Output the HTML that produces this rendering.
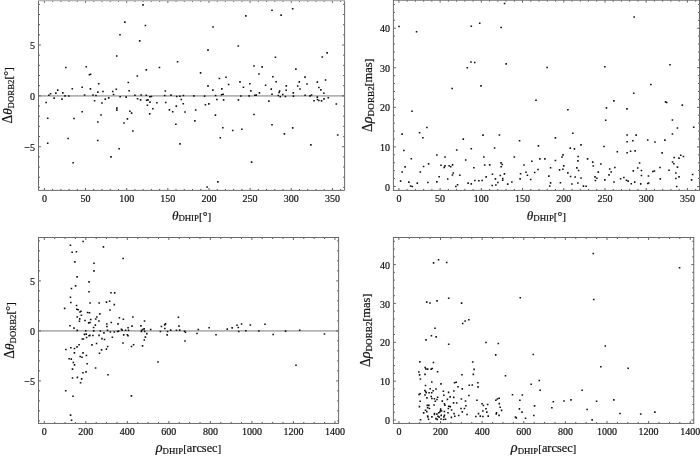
<!DOCTYPE html>
<html><head><meta charset="utf-8"><title>plot</title>
<style>
html,body{margin:0;padding:0;background:#fff;overflow:hidden;}
svg{display:block;}
text{font-family:"Liberation Serif","DejaVu Serif",serif;fill:#111;stroke:#111;stroke-width:0.2px;}
.tk{font-size:10px;}
.lb{font-size:12.2px;}
.sub{font-size:8.8px;}
.it{font-style:italic;font-size:13.3px;}
</style></head><body>
<svg width="700" height="456" viewBox="0 0 700 456">
<rect x="0" y="0" width="700" height="456" fill="#fff"/>

<g id="p1">
<line x1="38.5" y1="95.86" x2="344.6" y2="95.86" stroke="#b2b2b2" stroke-width="1.6"/>
<path d="M44.40 190.4v-2.4M44.40 0.5v2.4M52.63 190.4v-1.5M52.63 0.5v1.5M60.86 190.4v-1.5M60.86 0.5v1.5M69.09 190.4v-1.5M69.09 0.5v1.5M77.32 190.4v-1.5M77.32 0.5v1.5M85.54 190.4v-2.4M85.54 0.5v2.4M93.77 190.4v-1.5M93.77 0.5v1.5M102.00 190.4v-1.5M102.00 0.5v1.5M110.23 190.4v-1.5M110.23 0.5v1.5M118.46 190.4v-1.5M118.46 0.5v1.5M126.69 190.4v-2.4M126.69 0.5v2.4M134.92 190.4v-1.5M134.92 0.5v1.5M143.15 190.4v-1.5M143.15 0.5v1.5M151.38 190.4v-1.5M151.38 0.5v1.5M159.61 190.4v-1.5M159.61 0.5v1.5M167.83 190.4v-2.4M167.83 0.5v2.4M176.06 190.4v-1.5M176.06 0.5v1.5M184.29 190.4v-1.5M184.29 0.5v1.5M192.52 190.4v-1.5M192.52 0.5v1.5M200.75 190.4v-1.5M200.75 0.5v1.5M208.98 190.4v-2.4M208.98 0.5v2.4M217.21 190.4v-1.5M217.21 0.5v1.5M225.44 190.4v-1.5M225.44 0.5v1.5M233.67 190.4v-1.5M233.67 0.5v1.5M241.90 190.4v-1.5M241.90 0.5v1.5M250.12 190.4v-2.4M250.12 0.5v2.4M258.35 190.4v-1.5M258.35 0.5v1.5M266.58 190.4v-1.5M266.58 0.5v1.5M274.81 190.4v-1.5M274.81 0.5v1.5M283.04 190.4v-1.5M283.04 0.5v1.5M291.27 190.4v-2.4M291.27 0.5v2.4M299.50 190.4v-1.5M299.50 0.5v1.5M307.73 190.4v-1.5M307.73 0.5v1.5M315.96 190.4v-1.5M315.96 0.5v1.5M324.19 190.4v-1.5M324.19 0.5v1.5M332.41 190.4v-2.4M332.41 0.5v2.4M340.64 190.4v-1.5M340.64 0.5v1.5M38.5 187.39h1.5M344.6 187.39h-1.5M38.5 177.22h1.5M344.6 177.22h-1.5M38.5 167.05h1.5M344.6 167.05h-1.5M38.5 156.88h1.5M344.6 156.88h-1.5M38.5 146.71h2.4M344.6 146.71h-2.4M38.5 136.54h1.5M344.6 136.54h-1.5M38.5 126.37h1.5M344.6 126.37h-1.5M38.5 116.20h1.5M344.6 116.20h-1.5M38.5 106.03h1.5M344.6 106.03h-1.5M38.5 95.86h2.4M344.6 95.86h-2.4M38.5 85.69h1.5M344.6 85.69h-1.5M38.5 75.52h1.5M344.6 75.52h-1.5M38.5 65.35h1.5M344.6 65.35h-1.5M38.5 55.18h1.5M344.6 55.18h-1.5M38.5 45.01h2.4M344.6 45.01h-2.4M38.5 34.84h1.5M344.6 34.84h-1.5M38.5 24.67h1.5M344.6 24.67h-1.5M38.5 14.50h1.5M344.6 14.50h-1.5M38.5 4.33h1.5M344.6 4.33h-1.5" stroke="#4a4a4a" stroke-width="0.9" fill="none"/>
<path d="M38.5 0.5V190.4H344.6V0.5" fill="none" stroke="#6a6a6a" stroke-width="1"/>
<rect x="38.0" y="0" width="307.10" height="1.3" fill="#b4b4b4"/>
<text class="tk" x="44.40" y="201.90" text-anchor="middle">0</text>
<text class="tk" x="85.54" y="201.90" text-anchor="middle">50</text>
<text class="tk" x="126.69" y="201.90" text-anchor="middle">100</text>
<text class="tk" x="167.83" y="201.90" text-anchor="middle">150</text>
<text class="tk" x="208.98" y="201.90" text-anchor="middle">200</text>
<text class="tk" x="250.12" y="201.90" text-anchor="middle">250</text>
<text class="tk" x="291.27" y="201.90" text-anchor="middle">300</text>
<text class="tk" x="332.41" y="201.90" text-anchor="middle">350</text>
<text class="tk" x="35.00" y="150.81" text-anchor="end">−5</text>
<text class="tk" x="35.00" y="99.96" text-anchor="end">0</text>
<text class="tk" x="35.00" y="49.11" text-anchor="end">5</text>
<text class="lb" x="191.55" y="219.50" text-anchor="middle"><tspan class="it" style="font-size:13.2px">θ</tspan><tspan class="sub" dy="1.8" style="font-size:8.8px">DHIP</tspan><tspan dy="-1.8" style="font-size:11.2px">[</tspan><tspan style="font-size:12.0px">°</tspan><tspan style="font-size:11.2px">]</tspan></text>
<text class="lb" transform="translate(12.00 95.45) rotate(-90)" text-anchor="middle"><tspan style="font-size:13.6px">Δ</tspan><tspan class="it" style="font-size:13.2px">θ</tspan><tspan class="sub" dy="1.8" style="font-size:8.8px">DORB2</tspan><tspan dy="-1.8" style="font-size:11.2px">[</tspan><tspan style="font-size:12.0px">°</tspan><tspan style="font-size:11.2px">]</tspan></text>
<path d="M124.06 21.34h1.6v1.6h-1.6zM119.20 33.91h1.6v1.6h-1.6zM115.91 55.20h1.6v1.6h-1.6zM65.06 66.77h1.6v1.6h-1.6zM85.49 65.91h1.6v1.6h-1.6zM88.63 73.91h1.6v1.6h-1.6zM89.77 73.49h1.6v1.6h-1.6zM136.49 75.20h1.6v1.6h-1.6zM97.91 82.91h1.6v1.6h-1.6zM127.49 81.77h1.6v1.6h-1.6zM56.91 89.34h1.6v1.6h-1.6zM71.49 87.91h1.6v1.6h-1.6zM81.34 86.49h1.6v1.6h-1.6zM89.63 88.06h1.6v1.6h-1.6zM115.49 88.49h1.6v1.6h-1.6zM49.77 92.91h1.6v1.6h-1.6zM55.06 92.34h1.6v1.6h-1.6zM62.06 92.06h1.6v1.6h-1.6zM97.06 91.34h1.6v1.6h-1.6zM102.20 90.63h1.6v1.6h-1.6zM111.91 90.63h1.6v1.6h-1.6zM128.34 89.91h1.6v1.6h-1.6zM48.06 94.49h1.6v1.6h-1.6zM64.20 95.06h1.6v1.6h-1.6zM68.06 95.20h1.6v1.6h-1.6zM83.77 94.20h1.6v1.6h-1.6zM92.20 94.20h1.6v1.6h-1.6zM95.20 94.63h1.6v1.6h-1.6zM112.77 93.63h1.6v1.6h-1.6zM134.20 94.49h1.6v1.6h-1.6zM53.34 97.34h1.6v1.6h-1.6zM61.20 98.34h1.6v1.6h-1.6zM104.49 98.34h1.6v1.6h-1.6zM107.91 97.06h1.6v1.6h-1.6zM119.34 95.91h1.6v1.6h-1.6zM125.34 96.34h1.6v1.6h-1.6zM136.77 97.91h1.6v1.6h-1.6zM45.34 101.77h1.6v1.6h-1.6zM93.77 99.91h1.6v1.6h-1.6zM101.20 102.20h1.6v1.6h-1.6zM81.34 110.91h1.6v1.6h-1.6zM116.06 107.34h1.6v1.6h-1.6zM116.06 109.34h1.6v1.6h-1.6zM129.06 110.49h1.6v1.6h-1.6zM130.77 112.34h1.6v1.6h-1.6zM100.20 114.20h1.6v1.6h-1.6zM46.91 117.49h1.6v1.6h-1.6zM73.20 117.63h1.6v1.6h-1.6zM126.63 118.06h1.6v1.6h-1.6zM97.06 121.20h1.6v1.6h-1.6zM123.20 122.20h1.6v1.6h-1.6zM46.91 142.49h1.6v1.6h-1.6zM67.34 137.63h1.6v1.6h-1.6zM96.91 139.63h1.6v1.6h-1.6zM132.06 130.20h1.6v1.6h-1.6zM118.34 147.91h1.6v1.6h-1.6zM110.20 156.06h1.6v1.6h-1.6zM72.34 161.91h1.6v1.6h-1.6zM142.20 4.06h1.6v1.6h-1.6zM144.63 24.77h1.6v1.6h-1.6zM138.91 40.06h1.6v1.6h-1.6zM212.20 26.20h1.6v1.6h-1.6zM207.20 49.34h1.6v1.6h-1.6zM176.77 60.91h1.6v1.6h-1.6zM145.49 69.06h1.6v1.6h-1.6zM158.63 66.63h1.6v1.6h-1.6zM199.77 72.06h1.6v1.6h-1.6zM218.63 77.77h1.6v1.6h-1.6zM225.20 76.49h1.6v1.6h-1.6zM227.77 83.77h1.6v1.6h-1.6zM207.20 85.06h1.6v1.6h-1.6zM221.06 88.06h1.6v1.6h-1.6zM212.06 89.34h1.6v1.6h-1.6zM164.49 90.20h1.6v1.6h-1.6zM140.34 94.20h1.6v1.6h-1.6zM145.49 94.49h1.6v1.6h-1.6zM149.06 95.91h1.6v1.6h-1.6zM150.63 95.63h1.6v1.6h-1.6zM163.91 94.63h1.6v1.6h-1.6zM170.20 94.34h1.6v1.6h-1.6zM175.91 95.63h1.6v1.6h-1.6zM179.06 95.49h1.6v1.6h-1.6zM182.63 94.63h1.6v1.6h-1.6zM193.06 95.06h1.6v1.6h-1.6zM203.77 95.34h1.6v1.6h-1.6zM214.77 94.63h1.6v1.6h-1.6zM220.77 93.91h1.6v1.6h-1.6zM222.34 93.49h1.6v1.6h-1.6zM139.77 99.06h1.6v1.6h-1.6zM145.77 99.49h1.6v1.6h-1.6zM147.20 99.06h1.6v1.6h-1.6zM149.20 101.34h1.6v1.6h-1.6zM156.06 101.91h1.6v1.6h-1.6zM164.91 101.63h1.6v1.6h-1.6zM180.49 98.63h1.6v1.6h-1.6zM182.49 102.91h1.6v1.6h-1.6zM216.06 98.63h1.6v1.6h-1.6zM222.77 99.06h1.6v1.6h-1.6zM146.63 104.49h1.6v1.6h-1.6zM175.49 105.34h1.6v1.6h-1.6zM204.63 103.91h1.6v1.6h-1.6zM208.06 103.06h1.6v1.6h-1.6zM152.06 107.91h1.6v1.6h-1.6zM168.63 109.06h1.6v1.6h-1.6zM171.91 110.91h1.6v1.6h-1.6zM184.20 111.20h1.6v1.6h-1.6zM194.91 109.20h1.6v1.6h-1.6zM148.91 113.06h1.6v1.6h-1.6zM214.63 114.34h1.6v1.6h-1.6zM194.06 120.06h1.6v1.6h-1.6zM175.06 123.49h1.6v1.6h-1.6zM222.06 126.91h1.6v1.6h-1.6zM231.91 129.77h1.6v1.6h-1.6zM219.49 136.91h1.6v1.6h-1.6zM179.20 143.06h1.6v1.6h-1.6zM217.06 181.06h1.6v1.6h-1.6zM206.34 186.20h1.6v1.6h-1.6zM245.06 15.06h1.6v1.6h-1.6zM271.20 9.49h1.6v1.6h-1.6zM280.34 14.34h1.6v1.6h-1.6zM291.91 7.91h1.6v1.6h-1.6zM237.49 45.20h1.6v1.6h-1.6zM274.63 56.49h1.6v1.6h-1.6zM321.49 56.20h1.6v1.6h-1.6zM326.34 52.06h1.6v1.6h-1.6zM253.20 65.20h1.6v1.6h-1.6zM261.34 66.06h1.6v1.6h-1.6zM295.06 68.34h1.6v1.6h-1.6zM258.20 73.20h1.6v1.6h-1.6zM272.06 75.91h1.6v1.6h-1.6zM304.20 76.34h1.6v1.6h-1.6zM239.20 81.06h1.6v1.6h-1.6zM249.06 82.91h1.6v1.6h-1.6zM275.34 80.91h1.6v1.6h-1.6zM298.49 81.06h1.6v1.6h-1.6zM316.49 81.34h1.6v1.6h-1.6zM324.77 79.20h1.6v1.6h-1.6zM242.63 86.49h1.6v1.6h-1.6zM264.77 84.49h1.6v1.6h-1.6zM285.49 85.06h1.6v1.6h-1.6zM296.91 85.20h1.6v1.6h-1.6zM306.20 83.20h1.6v1.6h-1.6zM318.06 86.77h1.6v1.6h-1.6zM250.06 90.06h1.6v1.6h-1.6zM270.49 88.34h1.6v1.6h-1.6zM278.77 90.34h1.6v1.6h-1.6zM285.34 89.49h1.6v1.6h-1.6zM299.20 88.20h1.6v1.6h-1.6zM320.06 89.06h1.6v1.6h-1.6zM258.63 92.06h1.6v1.6h-1.6zM271.20 93.49h1.6v1.6h-1.6zM278.34 91.63h1.6v1.6h-1.6zM281.91 93.63h1.6v1.6h-1.6zM292.49 92.06h1.6v1.6h-1.6zM323.06 92.49h1.6v1.6h-1.6zM240.06 95.20h1.6v1.6h-1.6zM248.34 95.06h1.6v1.6h-1.6zM254.06 94.49h1.6v1.6h-1.6zM255.49 94.34h1.6v1.6h-1.6zM277.49 94.77h1.6v1.6h-1.6zM279.49 95.91h1.6v1.6h-1.6zM284.63 95.77h1.6v1.6h-1.6zM292.63 95.34h1.6v1.6h-1.6zM304.34 94.49h1.6v1.6h-1.6zM309.20 95.06h1.6v1.6h-1.6zM310.77 94.20h1.6v1.6h-1.6zM316.49 96.34h1.6v1.6h-1.6zM327.49 96.91h1.6v1.6h-1.6zM237.63 99.06h1.6v1.6h-1.6zM268.06 100.34h1.6v1.6h-1.6zM313.20 99.91h1.6v1.6h-1.6zM316.63 98.63h1.6v1.6h-1.6zM318.06 99.77h1.6v1.6h-1.6zM320.77 100.06h1.6v1.6h-1.6zM323.20 98.06h1.6v1.6h-1.6zM335.49 103.20h1.6v1.6h-1.6zM253.20 113.77h1.6v1.6h-1.6zM271.20 123.91h1.6v1.6h-1.6zM291.91 127.06h1.6v1.6h-1.6zM241.06 128.49h1.6v1.6h-1.6zM283.63 133.06h1.6v1.6h-1.6zM310.06 144.06h1.6v1.6h-1.6zM250.77 161.34h1.6v1.6h-1.6zM336.91 134.20h1.6v1.6h-1.6z" fill="#111"/>
</g>
<g id="p2">
<path d="M398.90 190.4v-2.4M398.90 0.2v2.4M407.14 190.4v-1.5M407.14 0.2v1.5M415.39 190.4v-1.5M415.39 0.2v1.5M423.63 190.4v-1.5M423.63 0.2v1.5M431.87 190.4v-1.5M431.87 0.2v1.5M440.12 190.4v-2.4M440.12 0.2v2.4M448.36 190.4v-1.5M448.36 0.2v1.5M456.60 190.4v-1.5M456.60 0.2v1.5M464.84 190.4v-1.5M464.84 0.2v1.5M473.09 190.4v-1.5M473.09 0.2v1.5M481.33 190.4v-2.4M481.33 0.2v2.4M489.57 190.4v-1.5M489.57 0.2v1.5M497.82 190.4v-1.5M497.82 0.2v1.5M506.06 190.4v-1.5M506.06 0.2v1.5M514.30 190.4v-1.5M514.30 0.2v1.5M522.54 190.4v-2.4M522.54 0.2v2.4M530.79 190.4v-1.5M530.79 0.2v1.5M539.03 190.4v-1.5M539.03 0.2v1.5M547.27 190.4v-1.5M547.27 0.2v1.5M555.52 190.4v-1.5M555.52 0.2v1.5M563.76 190.4v-2.4M563.76 0.2v2.4M572.00 190.4v-1.5M572.00 0.2v1.5M580.25 190.4v-1.5M580.25 0.2v1.5M588.49 190.4v-1.5M588.49 0.2v1.5M596.73 190.4v-1.5M596.73 0.2v1.5M604.98 190.4v-2.4M604.98 0.2v2.4M613.22 190.4v-1.5M613.22 0.2v1.5M621.46 190.4v-1.5M621.46 0.2v1.5M629.70 190.4v-1.5M629.70 0.2v1.5M637.95 190.4v-1.5M637.95 0.2v1.5M646.19 190.4v-2.4M646.19 0.2v2.4M654.43 190.4v-1.5M654.43 0.2v1.5M662.68 190.4v-1.5M662.68 0.2v1.5M670.92 190.4v-1.5M670.92 0.2v1.5M679.16 190.4v-1.5M679.16 0.2v1.5M687.40 190.4v-2.4M687.40 0.2v2.4M695.65 190.4v-1.5M695.65 0.2v1.5M393.4 186.46h2.4M699.5 186.46h-2.4M393.4 178.55h1.5M699.5 178.55h-1.5M393.4 170.63h1.5M699.5 170.63h-1.5M393.4 162.72h1.5M699.5 162.72h-1.5M393.4 154.81h1.5M699.5 154.81h-1.5M393.4 146.90h2.4M699.5 146.90h-2.4M393.4 138.98h1.5M699.5 138.98h-1.5M393.4 131.07h1.5M699.5 131.07h-1.5M393.4 123.16h1.5M699.5 123.16h-1.5M393.4 115.24h1.5M699.5 115.24h-1.5M393.4 107.33h2.4M699.5 107.33h-2.4M393.4 99.42h1.5M699.5 99.42h-1.5M393.4 91.50h1.5M699.5 91.50h-1.5M393.4 83.59h1.5M699.5 83.59h-1.5M393.4 75.68h1.5M699.5 75.68h-1.5M393.4 67.77h2.4M699.5 67.77h-2.4M393.4 59.85h1.5M699.5 59.85h-1.5M393.4 51.94h1.5M699.5 51.94h-1.5M393.4 44.03h1.5M699.5 44.03h-1.5M393.4 36.11h1.5M699.5 36.11h-1.5M393.4 28.20h2.4M699.5 28.20h-2.4M393.4 20.29h1.5M699.5 20.29h-1.5M393.4 12.37h1.5M699.5 12.37h-1.5M393.4 4.46h1.5M699.5 4.46h-1.5" stroke="#4a4a4a" stroke-width="0.9" fill="none"/>
<rect x="393.4" y="0.2" width="306.10" height="190.20" fill="none" stroke="#6a6a6a" stroke-width="1"/>
<text class="tk" x="398.90" y="201.90" text-anchor="middle">0</text>
<text class="tk" x="440.12" y="201.90" text-anchor="middle">50</text>
<text class="tk" x="481.33" y="201.90" text-anchor="middle">100</text>
<text class="tk" x="522.54" y="201.90" text-anchor="middle">150</text>
<text class="tk" x="563.76" y="201.90" text-anchor="middle">200</text>
<text class="tk" x="604.98" y="201.90" text-anchor="middle">250</text>
<text class="tk" x="646.19" y="201.90" text-anchor="middle">300</text>
<text class="tk" x="687.40" y="201.90" text-anchor="middle">350</text>
<text class="tk" x="389.90" y="190.56" text-anchor="end">0</text>
<text class="tk" x="389.90" y="151.00" text-anchor="end">10</text>
<text class="tk" x="389.90" y="111.43" text-anchor="end">20</text>
<text class="tk" x="389.90" y="71.86" text-anchor="end">30</text>
<text class="tk" x="389.90" y="32.30" text-anchor="end">40</text>
<text class="lb" x="546.45" y="219.50" text-anchor="middle"><tspan class="it" style="font-size:13.2px">θ</tspan><tspan class="sub" dy="1.8" style="font-size:8.8px">DHIP</tspan><tspan dy="-1.8" style="font-size:11.2px">[</tspan><tspan style="font-size:12.0px">°</tspan><tspan style="font-size:11.2px">]</tspan></text>
<text class="lb" transform="translate(372.10 95.30) rotate(-90)" text-anchor="middle"><tspan style="font-size:13.6px">Δ</tspan><tspan class="it" style="font-size:14.2px">ρ</tspan><tspan class="sub" dy="1.8" style="font-size:9.2px">DORB2</tspan><tspan dy="-1.8" style="font-size:11.2px">[</tspan><tspan style="font-size:12.5px">mas</tspan><tspan style="font-size:11.2px">]</tspan></text>
<path d="M398.20 25.77h1.6v1.6h-1.6zM415.77 30.91h1.6v1.6h-1.6zM470.49 25.49h1.6v1.6h-1.6zM478.91 22.49h1.6v1.6h-1.6zM470.20 61.20h1.6v1.6h-1.6zM473.91 61.77h1.6v1.6h-1.6zM466.49 66.91h1.6v1.6h-1.6zM480.20 85.06h1.6v1.6h-1.6zM451.34 87.63h1.6v1.6h-1.6zM411.20 110.49h1.6v1.6h-1.6zM426.06 126.77h1.6v1.6h-1.6zM401.34 133.34h1.6v1.6h-1.6zM418.77 131.91h1.6v1.6h-1.6zM422.06 136.91h1.6v1.6h-1.6zM482.20 134.34h1.6v1.6h-1.6zM462.49 138.34h1.6v1.6h-1.6zM403.06 149.63h1.6v1.6h-1.6zM455.91 149.20h1.6v1.6h-1.6zM470.49 147.91h1.6v1.6h-1.6zM436.06 154.20h1.6v1.6h-1.6zM444.20 156.20h1.6v1.6h-1.6zM483.06 156.20h1.6v1.6h-1.6zM410.49 157.91h1.6v1.6h-1.6zM464.91 159.20h1.6v1.6h-1.6zM427.77 163.06h1.6v1.6h-1.6zM404.34 166.06h1.6v1.6h-1.6zM422.77 165.63h1.6v1.6h-1.6zM440.20 164.49h1.6v1.6h-1.6zM444.20 165.06h1.6v1.6h-1.6zM443.34 166.63h1.6v1.6h-1.6zM448.34 164.91h1.6v1.6h-1.6zM449.91 165.91h1.6v1.6h-1.6zM451.77 164.06h1.6v1.6h-1.6zM473.06 166.91h1.6v1.6h-1.6zM483.91 164.20h1.6v1.6h-1.6zM488.91 164.06h1.6v1.6h-1.6zM401.34 171.20h1.6v1.6h-1.6zM419.49 171.20h1.6v1.6h-1.6zM452.49 172.20h1.6v1.6h-1.6zM451.63 174.20h1.6v1.6h-1.6zM459.06 174.49h1.6v1.6h-1.6zM438.34 175.91h1.6v1.6h-1.6zM485.34 176.06h1.6v1.6h-1.6zM491.63 173.49h1.6v1.6h-1.6zM446.91 178.20h1.6v1.6h-1.6zM399.77 180.34h1.6v1.6h-1.6zM408.06 181.34h1.6v1.6h-1.6zM416.49 182.34h1.6v1.6h-1.6zM427.06 181.77h1.6v1.6h-1.6zM436.06 181.06h1.6v1.6h-1.6zM474.06 179.77h1.6v1.6h-1.6zM478.06 179.91h1.6v1.6h-1.6zM481.34 179.63h1.6v1.6h-1.6zM467.34 182.34h1.6v1.6h-1.6zM470.49 183.06h1.6v1.6h-1.6zM409.77 185.20h1.6v1.6h-1.6zM411.49 185.77h1.6v1.6h-1.6zM455.06 185.77h1.6v1.6h-1.6zM456.77 183.91h1.6v1.6h-1.6zM491.34 184.63h1.6v1.6h-1.6zM503.77 2.77h1.6v1.6h-1.6zM500.34 26.63h1.6v1.6h-1.6zM505.34 63.06h1.6v1.6h-1.6zM546.34 66.63h1.6v1.6h-1.6zM535.20 99.49h1.6v1.6h-1.6zM567.06 108.91h1.6v1.6h-1.6zM498.63 134.20h1.6v1.6h-1.6zM572.06 132.49h1.6v1.6h-1.6zM518.77 139.91h1.6v1.6h-1.6zM554.63 137.06h1.6v1.6h-1.6zM493.77 147.20h1.6v1.6h-1.6zM537.63 145.06h1.6v1.6h-1.6zM580.20 144.06h1.6v1.6h-1.6zM569.49 147.34h1.6v1.6h-1.6zM573.63 148.06h1.6v1.6h-1.6zM513.49 156.20h1.6v1.6h-1.6zM562.20 154.06h1.6v1.6h-1.6zM561.20 156.20h1.6v1.6h-1.6zM577.34 155.77h1.6v1.6h-1.6zM539.06 158.06h1.6v1.6h-1.6zM544.06 158.06h1.6v1.6h-1.6zM586.77 158.06h1.6v1.6h-1.6zM531.06 160.49h1.6v1.6h-1.6zM554.63 159.77h1.6v1.6h-1.6zM577.06 160.06h1.6v1.6h-1.6zM500.20 162.06h1.6v1.6h-1.6zM501.49 163.63h1.6v1.6h-1.6zM500.34 165.91h1.6v1.6h-1.6zM523.20 164.20h1.6v1.6h-1.6zM562.91 165.06h1.6v1.6h-1.6zM591.91 161.34h1.6v1.6h-1.6zM549.77 166.91h1.6v1.6h-1.6zM576.06 167.06h1.6v1.6h-1.6zM537.20 168.63h1.6v1.6h-1.6zM558.77 169.06h1.6v1.6h-1.6zM562.06 168.49h1.6v1.6h-1.6zM577.77 169.77h1.6v1.6h-1.6zM503.63 173.06h1.6v1.6h-1.6zM519.77 172.91h1.6v1.6h-1.6zM525.20 171.49h1.6v1.6h-1.6zM533.91 171.63h1.6v1.6h-1.6zM567.06 172.06h1.6v1.6h-1.6zM499.49 174.63h1.6v1.6h-1.6zM526.63 174.49h1.6v1.6h-1.6zM548.06 175.34h1.6v1.6h-1.6zM569.77 175.77h1.6v1.6h-1.6zM574.34 176.20h1.6v1.6h-1.6zM494.63 178.06h1.6v1.6h-1.6zM501.91 177.77h1.6v1.6h-1.6zM501.91 179.49h1.6v1.6h-1.6zM519.34 178.06h1.6v1.6h-1.6zM529.91 178.77h1.6v1.6h-1.6zM580.20 177.20h1.6v1.6h-1.6zM497.06 181.63h1.6v1.6h-1.6zM511.06 181.20h1.6v1.6h-1.6zM549.77 182.06h1.6v1.6h-1.6zM559.63 181.91h1.6v1.6h-1.6zM577.06 182.20h1.6v1.6h-1.6zM495.06 184.20h1.6v1.6h-1.6zM506.91 183.34h1.6v1.6h-1.6zM548.91 185.20h1.6v1.6h-1.6zM571.06 183.20h1.6v1.6h-1.6zM582.63 185.34h1.6v1.6h-1.6zM585.34 185.49h1.6v1.6h-1.6zM633.34 16.20h1.6v1.6h-1.6zM604.06 65.91h1.6v1.6h-1.6zM669.20 63.91h1.6v1.6h-1.6zM650.06 83.63h1.6v1.6h-1.6zM632.91 92.49h1.6v1.6h-1.6zM613.06 100.06h1.6v1.6h-1.6zM664.77 101.06h1.6v1.6h-1.6zM665.91 101.63h1.6v1.6h-1.6zM681.49 104.34h1.6v1.6h-1.6zM605.63 107.06h1.6v1.6h-1.6zM626.20 108.06h1.6v1.6h-1.6zM604.91 119.49h1.6v1.6h-1.6zM671.63 119.20h1.6v1.6h-1.6zM676.63 127.20h1.6v1.6h-1.6zM626.34 134.20h1.6v1.6h-1.6zM635.34 134.34h1.6v1.6h-1.6zM671.63 133.20h1.6v1.6h-1.6zM626.34 140.91h1.6v1.6h-1.6zM632.06 139.91h1.6v1.6h-1.6zM646.91 139.20h1.6v1.6h-1.6zM654.20 141.20h1.6v1.6h-1.6zM664.06 139.34h1.6v1.6h-1.6zM603.20 145.77h1.6v1.6h-1.6zM616.49 150.91h1.6v1.6h-1.6zM626.34 151.91h1.6v1.6h-1.6zM629.77 150.49h1.6v1.6h-1.6zM634.34 150.06h1.6v1.6h-1.6zM661.34 152.06h1.6v1.6h-1.6zM673.34 156.63h1.6v1.6h-1.6zM678.20 157.34h1.6v1.6h-1.6zM679.91 154.49h1.6v1.6h-1.6zM682.63 155.63h1.6v1.6h-1.6zM592.49 165.20h1.6v1.6h-1.6zM600.06 163.20h1.6v1.6h-1.6zM638.77 162.20h1.6v1.6h-1.6zM671.77 161.20h1.6v1.6h-1.6zM673.06 162.91h1.6v1.6h-1.6zM608.91 168.20h1.6v1.6h-1.6zM614.06 166.77h1.6v1.6h-1.6zM636.91 167.20h1.6v1.6h-1.6zM659.20 166.77h1.6v1.6h-1.6zM676.63 166.34h1.6v1.6h-1.6zM597.49 171.34h1.6v1.6h-1.6zM610.34 171.20h1.6v1.6h-1.6zM632.49 170.06h1.6v1.6h-1.6zM640.63 169.77h1.6v1.6h-1.6zM652.06 170.63h1.6v1.6h-1.6zM653.63 170.20h1.6v1.6h-1.6zM668.20 169.49h1.6v1.6h-1.6zM675.06 172.20h1.6v1.6h-1.6zM608.20 174.06h1.6v1.6h-1.6zM640.63 174.77h1.6v1.6h-1.6zM647.63 175.20h1.6v1.6h-1.6zM678.20 176.06h1.6v1.6h-1.6zM691.77 173.63h1.6v1.6h-1.6zM594.20 176.06h1.6v1.6h-1.6zM596.06 177.49h1.6v1.6h-1.6zM594.63 179.77h1.6v1.6h-1.6zM604.06 179.06h1.6v1.6h-1.6zM619.77 177.91h1.6v1.6h-1.6zM623.06 176.77h1.6v1.6h-1.6zM659.49 178.06h1.6v1.6h-1.6zM675.06 177.77h1.6v1.6h-1.6zM690.77 179.06h1.6v1.6h-1.6zM613.20 181.20h1.6v1.6h-1.6zM625.63 179.49h1.6v1.6h-1.6zM627.34 180.34h1.6v1.6h-1.6zM630.49 182.91h1.6v1.6h-1.6zM633.91 181.34h1.6v1.6h-1.6zM639.91 183.06h1.6v1.6h-1.6zM646.91 182.77h1.6v1.6h-1.6zM647.91 182.20h1.6v1.6h-1.6zM675.91 185.63h1.6v1.6h-1.6zM692.90 126.50h1.6v1.6h-1.6z" fill="#111"/>
</g>
<g id="p3">
<line x1="38.5" y1="330.9" x2="338.6" y2="330.9" stroke="#b2b2b2" stroke-width="1.6"/>
<path d="M44.30 423.45v-2.4M44.30 237.5v2.4M54.68 423.45v-1.5M54.68 237.5v1.5M65.06 423.45v-1.5M65.06 237.5v1.5M75.44 423.45v-1.5M75.44 237.5v1.5M85.82 423.45v-2.4M85.82 237.5v2.4M96.20 423.45v-1.5M96.20 237.5v1.5M106.58 423.45v-1.5M106.58 237.5v1.5M116.96 423.45v-1.5M116.96 237.5v1.5M127.34 423.45v-2.4M127.34 237.5v2.4M137.72 423.45v-1.5M137.72 237.5v1.5M148.10 423.45v-1.5M148.10 237.5v1.5M158.48 423.45v-1.5M158.48 237.5v1.5M168.86 423.45v-2.4M168.86 237.5v2.4M179.24 423.45v-1.5M179.24 237.5v1.5M189.62 423.45v-1.5M189.62 237.5v1.5M200.00 423.45v-1.5M200.00 237.5v1.5M210.38 423.45v-2.4M210.38 237.5v2.4M220.76 423.45v-1.5M220.76 237.5v1.5M231.14 423.45v-1.5M231.14 237.5v1.5M241.52 423.45v-1.5M241.52 237.5v1.5M251.90 423.45v-2.4M251.90 237.5v2.4M262.28 423.45v-1.5M262.28 237.5v1.5M272.66 423.45v-1.5M272.66 237.5v1.5M283.04 423.45v-1.5M283.04 237.5v1.5M293.42 423.45v-2.4M293.42 237.5v2.4M303.80 423.45v-1.5M303.80 237.5v1.5M314.18 423.45v-1.5M314.18 237.5v1.5M324.56 423.45v-1.5M324.56 237.5v1.5M334.94 423.45v-2.4M334.94 237.5v2.4M38.5 420.90h1.5M338.6 420.90h-1.5M38.5 410.90h1.5M338.6 410.90h-1.5M38.5 400.90h1.5M338.6 400.90h-1.5M38.5 390.90h1.5M338.6 390.90h-1.5M38.5 380.90h2.4M338.6 380.90h-2.4M38.5 370.90h1.5M338.6 370.90h-1.5M38.5 360.90h1.5M338.6 360.90h-1.5M38.5 350.90h1.5M338.6 350.90h-1.5M38.5 340.90h1.5M338.6 340.90h-1.5M38.5 330.90h2.4M338.6 330.90h-2.4M38.5 320.90h1.5M338.6 320.90h-1.5M38.5 310.90h1.5M338.6 310.90h-1.5M38.5 300.90h1.5M338.6 300.90h-1.5M38.5 290.90h1.5M338.6 290.90h-1.5M38.5 280.90h2.4M338.6 280.90h-2.4M38.5 270.90h1.5M338.6 270.90h-1.5M38.5 260.90h1.5M338.6 260.90h-1.5M38.5 250.90h1.5M338.6 250.90h-1.5M38.5 240.90h1.5M338.6 240.90h-1.5" stroke="#4a4a4a" stroke-width="0.9" fill="none"/>
<rect x="38.5" y="237.5" width="300.10" height="185.95" fill="none" stroke="#6a6a6a" stroke-width="1"/>
<text class="tk" x="44.30" y="435.40" text-anchor="middle">0</text>
<text class="tk" x="85.82" y="435.40" text-anchor="middle">200</text>
<text class="tk" x="127.34" y="435.40" text-anchor="middle">400</text>
<text class="tk" x="168.86" y="435.40" text-anchor="middle">600</text>
<text class="tk" x="210.38" y="435.40" text-anchor="middle">800</text>
<text class="tk" x="251.90" y="435.40" text-anchor="middle">1000</text>
<text class="tk" x="293.42" y="435.40" text-anchor="middle">1200</text>
<text class="tk" x="334.94" y="435.40" text-anchor="middle">1400</text>
<text class="tk" x="35.00" y="385.00" text-anchor="end">−5</text>
<text class="tk" x="35.00" y="335.00" text-anchor="end">0</text>
<text class="tk" x="35.00" y="285.00" text-anchor="end">5</text>
<text class="lb" x="188.55" y="452.40" text-anchor="middle"><tspan class="it" style="font-size:14.2px">ρ</tspan><tspan class="sub" dy="1.8" style="font-size:8.8px">DHIP</tspan><tspan dy="-1.8" style="font-size:11.2px">[</tspan><tspan style="font-size:12.3px">arcsec</tspan><tspan style="font-size:11.2px">]</tspan></text>
<text class="lb" transform="translate(14.00 330.48) rotate(-90)" text-anchor="middle"><tspan style="font-size:13.6px">Δ</tspan><tspan class="it" style="font-size:13.2px">θ</tspan><tspan class="sub" dy="1.8" style="font-size:8.8px">DORB2</tspan><tspan dy="-1.8" style="font-size:11.2px">[</tspan><tspan style="font-size:12.0px">°</tspan><tspan style="font-size:11.2px">]</tspan></text>
<path d="M82.34 240.77h1.6v1.6h-1.6zM69.63 244.49h1.6v1.6h-1.6zM102.63 246.06h1.6v1.6h-1.6zM71.34 251.49h1.6v1.6h-1.6zM75.63 250.91h1.6v1.6h-1.6zM122.34 257.77h1.6v1.6h-1.6zM74.06 261.06h1.6v1.6h-1.6zM93.20 262.49h1.6v1.6h-1.6zM93.20 270.06h1.6v1.6h-1.6zM76.34 276.06h1.6v1.6h-1.6zM88.20 281.06h1.6v1.6h-1.6zM74.77 285.06h1.6v1.6h-1.6zM70.63 287.77h1.6v1.6h-1.6zM88.20 290.91h1.6v1.6h-1.6zM110.20 291.91h1.6v1.6h-1.6zM113.91 292.06h1.6v1.6h-1.6zM69.63 296.49h1.6v1.6h-1.6zM70.06 301.63h1.6v1.6h-1.6zM89.27 302.27h1.6v1.6h-1.6zM98.41 302.20h1.6v1.6h-1.6zM105.70 301.34h1.6v1.6h-1.6zM108.84 300.49h1.6v1.6h-1.6zM75.77 304.63h1.6v1.6h-1.6zM63.84 307.56h1.6v1.6h-1.6zM75.99 308.41h1.6v1.6h-1.6zM77.41 308.91h1.6v1.6h-1.6zM79.20 311.13h1.6v1.6h-1.6zM80.20 310.49h1.6v1.6h-1.6zM86.77 311.63h1.6v1.6h-1.6zM88.70 311.91h1.6v1.6h-1.6zM99.06 313.06h1.6v1.6h-1.6zM80.63 314.49h1.6v1.6h-1.6zM76.41 316.13h1.6v1.6h-1.6zM78.91 318.06h1.6v1.6h-1.6zM78.63 320.41h1.6v1.6h-1.6zM84.20 319.70h1.6v1.6h-1.6zM89.91 318.77h1.6v1.6h-1.6zM96.06 316.20h1.6v1.6h-1.6zM94.91 318.13h1.6v1.6h-1.6zM98.13 320.20h1.6v1.6h-1.6zM87.91 322.06h1.6v1.6h-1.6zM89.20 321.70h1.6v1.6h-1.6zM69.20 324.91h1.6v1.6h-1.6zM73.20 327.34h1.6v1.6h-1.6zM94.56 324.34h1.6v1.6h-1.6zM92.77 326.70h1.6v1.6h-1.6zM105.99 323.27h1.6v1.6h-1.6zM106.13 325.63h1.6v1.6h-1.6zM76.49 329.56h1.6v1.6h-1.6zM84.91 329.91h1.6v1.6h-1.6zM92.91 330.06h1.6v1.6h-1.6zM99.56 330.27h1.6v1.6h-1.6zM106.70 329.56h1.6v1.6h-1.6zM109.20 309.20h1.6v1.6h-1.6zM83.63 333.56h1.6v1.6h-1.6zM85.49 333.34h1.6v1.6h-1.6zM88.20 334.91h1.6v1.6h-1.6zM89.06 334.56h1.6v1.6h-1.6zM92.06 334.63h1.6v1.6h-1.6zM98.27 334.56h1.6v1.6h-1.6zM103.13 332.06h1.6v1.6h-1.6zM85.77 336.77h1.6v1.6h-1.6zM81.49 338.13h1.6v1.6h-1.6zM82.63 338.27h1.6v1.6h-1.6zM101.13 337.84h1.6v1.6h-1.6zM103.70 338.63h1.6v1.6h-1.6zM95.77 342.63h1.6v1.6h-1.6zM91.13 344.06h1.6v1.6h-1.6zM78.27 343.91h1.6v1.6h-1.6zM76.20 346.06h1.6v1.6h-1.6zM106.84 345.63h1.6v1.6h-1.6zM70.06 346.91h1.6v1.6h-1.6zM73.70 347.77h1.6v1.6h-1.6zM65.06 348.70h1.6v1.6h-1.6zM105.63 348.34h1.6v1.6h-1.6zM100.77 349.06h1.6v1.6h-1.6zM73.63 352.06h1.6v1.6h-1.6zM82.20 352.06h1.6v1.6h-1.6zM98.70 352.49h1.6v1.6h-1.6zM85.63 354.63h1.6v1.6h-1.6zM79.34 355.70h1.6v1.6h-1.6zM81.20 356.49h1.6v1.6h-1.6zM68.34 357.99h1.6v1.6h-1.6zM70.49 358.34h1.6v1.6h-1.6zM72.56 361.70h1.6v1.6h-1.6zM86.34 362.99h1.6v1.6h-1.6zM73.70 364.06h1.6v1.6h-1.6zM94.77 367.27h1.6v1.6h-1.6zM71.70 368.34h1.6v1.6h-1.6zM82.20 371.91h1.6v1.6h-1.6zM85.20 371.06h1.6v1.6h-1.6zM107.20 373.91h1.6v1.6h-1.6zM71.70 377.13h1.6v1.6h-1.6zM76.63 376.56h1.6v1.6h-1.6zM80.84 378.06h1.6v1.6h-1.6zM79.77 381.91h1.6v1.6h-1.6zM64.91 389.99h1.6v1.6h-1.6zM72.20 395.49h1.6v1.6h-1.6zM130.63 395.06h1.6v1.6h-1.6zM69.77 414.34h1.6v1.6h-1.6zM70.77 419.49h1.6v1.6h-1.6zM113.49 303.84h1.6v1.6h-1.6zM118.63 316.91h1.6v1.6h-1.6zM122.56 318.49h1.6v1.6h-1.6zM132.06 316.20h1.6v1.6h-1.6zM143.70 320.13h1.6v1.6h-1.6zM110.49 321.70h1.6v1.6h-1.6zM117.20 323.06h1.6v1.6h-1.6zM131.20 325.34h1.6v1.6h-1.6zM140.13 325.06h1.6v1.6h-1.6zM127.27 326.99h1.6v1.6h-1.6zM120.63 328.49h1.6v1.6h-1.6zM121.34 329.34h1.6v1.6h-1.6zM124.77 329.49h1.6v1.6h-1.6zM127.77 329.49h1.6v1.6h-1.6zM109.56 331.27h1.6v1.6h-1.6zM113.49 331.27h1.6v1.6h-1.6zM116.70 330.77h1.6v1.6h-1.6zM117.77 330.34h1.6v1.6h-1.6zM140.63 329.84h1.6v1.6h-1.6zM141.70 328.77h1.6v1.6h-1.6zM143.34 328.06h1.6v1.6h-1.6zM140.63 330.77h1.6v1.6h-1.6zM143.84 330.56h1.6v1.6h-1.6zM149.91 328.77h1.6v1.6h-1.6zM145.99 332.84h1.6v1.6h-1.6zM122.91 334.06h1.6v1.6h-1.6zM126.56 333.91h1.6v1.6h-1.6zM127.20 334.99h1.6v1.6h-1.6zM111.56 336.41h1.6v1.6h-1.6zM144.56 336.34h1.6v1.6h-1.6zM143.49 339.27h1.6v1.6h-1.6zM122.20 342.13h1.6v1.6h-1.6zM132.77 343.99h1.6v1.6h-1.6zM130.63 345.77h1.6v1.6h-1.6zM141.70 345.06h1.6v1.6h-1.6zM157.20 361.27h1.6v1.6h-1.6zM159.63 330.77h1.6v1.6h-1.6zM160.63 325.77h1.6v1.6h-1.6zM163.91 324.06h1.6v1.6h-1.6zM164.77 323.06h1.6v1.6h-1.6zM164.06 327.63h1.6v1.6h-1.6zM166.77 330.77h1.6v1.6h-1.6zM166.34 334.06h1.6v1.6h-1.6zM169.91 329.34h1.6v1.6h-1.6zM175.63 329.49h1.6v1.6h-1.6zM177.63 316.49h1.6v1.6h-1.6zM178.20 325.34h1.6v1.6h-1.6zM178.91 329.34h1.6v1.6h-1.6zM183.77 330.49h1.6v1.6h-1.6zM184.63 331.49h1.6v1.6h-1.6zM184.20 340.20h1.6v1.6h-1.6zM196.20 332.77h1.6v1.6h-1.6zM197.49 328.63h1.6v1.6h-1.6zM208.34 326.91h1.6v1.6h-1.6zM215.20 333.91h1.6v1.6h-1.6zM226.49 328.34h1.6v1.6h-1.6zM231.34 327.06h1.6v1.6h-1.6zM236.20 324.49h1.6v1.6h-1.6zM240.77 323.20h1.6v1.6h-1.6zM249.49 324.20h1.6v1.6h-1.6zM264.20 323.49h1.6v1.6h-1.6zM237.49 326.77h1.6v1.6h-1.6zM237.91 330.77h1.6v1.6h-1.6zM245.06 329.91h1.6v1.6h-1.6zM258.06 330.20h1.6v1.6h-1.6zM272.34 333.63h1.6v1.6h-1.6zM284.77 330.34h1.6v1.6h-1.6zM298.91 329.49h1.6v1.6h-1.6zM323.63 333.20h1.6v1.6h-1.6zM295.20 364.49h1.6v1.6h-1.6z" fill="#111"/>
</g>
<g id="p4">
<path d="M398.90 423.45v-2.4M398.90 237.5v2.4M409.30 423.45v-1.5M409.30 237.5v1.5M419.71 423.45v-1.5M419.71 237.5v1.5M430.11 423.45v-1.5M430.11 237.5v1.5M440.52 423.45v-2.4M440.52 237.5v2.4M450.92 423.45v-1.5M450.92 237.5v1.5M461.33 423.45v-1.5M461.33 237.5v1.5M471.74 423.45v-1.5M471.74 237.5v1.5M482.14 423.45v-2.4M482.14 237.5v2.4M492.54 423.45v-1.5M492.54 237.5v1.5M502.95 423.45v-1.5M502.95 237.5v1.5M513.36 423.45v-1.5M513.36 237.5v1.5M523.76 423.45v-2.4M523.76 237.5v2.4M534.16 423.45v-1.5M534.16 237.5v1.5M544.57 423.45v-1.5M544.57 237.5v1.5M554.98 423.45v-1.5M554.98 237.5v1.5M565.38 423.45v-2.4M565.38 237.5v2.4M575.78 423.45v-1.5M575.78 237.5v1.5M586.19 423.45v-1.5M586.19 237.5v1.5M596.60 423.45v-1.5M596.60 237.5v1.5M607.00 423.45v-2.4M607.00 237.5v2.4M617.40 423.45v-1.5M617.40 237.5v1.5M627.81 423.45v-1.5M627.81 237.5v1.5M638.21 423.45v-1.5M638.21 237.5v1.5M648.62 423.45v-2.4M648.62 237.5v2.4M659.02 423.45v-1.5M659.02 237.5v1.5M669.43 423.45v-1.5M669.43 237.5v1.5M679.84 423.45v-1.5M679.84 237.5v1.5M690.24 423.45v-2.4M690.24 237.5v2.4M393.4 420.00h2.4M693.75 420.00h-2.4M393.4 412.23h1.5M693.75 412.23h-1.5M393.4 404.46h1.5M693.75 404.46h-1.5M393.4 396.69h1.5M693.75 396.69h-1.5M393.4 388.92h1.5M693.75 388.92h-1.5M393.4 381.15h2.4M693.75 381.15h-2.4M393.4 373.38h1.5M693.75 373.38h-1.5M393.4 365.61h1.5M693.75 365.61h-1.5M393.4 357.84h1.5M693.75 357.84h-1.5M393.4 350.07h1.5M693.75 350.07h-1.5M393.4 342.30h2.4M693.75 342.30h-2.4M393.4 334.53h1.5M693.75 334.53h-1.5M393.4 326.76h1.5M693.75 326.76h-1.5M393.4 318.99h1.5M693.75 318.99h-1.5M393.4 311.22h1.5M693.75 311.22h-1.5M393.4 303.45h2.4M693.75 303.45h-2.4M393.4 295.68h1.5M693.75 295.68h-1.5M393.4 287.91h1.5M693.75 287.91h-1.5M393.4 280.14h1.5M693.75 280.14h-1.5M393.4 272.37h1.5M693.75 272.37h-1.5M393.4 264.60h2.4M693.75 264.60h-2.4M393.4 256.83h1.5M693.75 256.83h-1.5M393.4 249.06h1.5M693.75 249.06h-1.5M393.4 241.29h1.5M693.75 241.29h-1.5" stroke="#4a4a4a" stroke-width="0.9" fill="none"/>
<rect x="393.4" y="237.5" width="300.35" height="185.95" fill="none" stroke="#6a6a6a" stroke-width="1"/>
<text class="tk" x="398.90" y="435.40" text-anchor="middle">0</text>
<text class="tk" x="440.52" y="435.40" text-anchor="middle">200</text>
<text class="tk" x="482.14" y="435.40" text-anchor="middle">400</text>
<text class="tk" x="523.76" y="435.40" text-anchor="middle">600</text>
<text class="tk" x="565.38" y="435.40" text-anchor="middle">800</text>
<text class="tk" x="607.00" y="435.40" text-anchor="middle">1000</text>
<text class="tk" x="648.62" y="435.40" text-anchor="middle">1200</text>
<text class="tk" x="690.24" y="435.40" text-anchor="middle">1400</text>
<text class="tk" x="389.90" y="424.10" text-anchor="end">0</text>
<text class="tk" x="389.90" y="385.25" text-anchor="end">10</text>
<text class="tk" x="389.90" y="346.40" text-anchor="end">20</text>
<text class="tk" x="389.90" y="307.55" text-anchor="end">30</text>
<text class="tk" x="389.90" y="268.70" text-anchor="end">40</text>
<text class="lb" x="543.58" y="452.40" text-anchor="middle"><tspan class="it" style="font-size:14.2px">ρ</tspan><tspan class="sub" dy="1.8" style="font-size:8.8px">DHIP</tspan><tspan dy="-1.8" style="font-size:11.2px">[</tspan><tspan style="font-size:12.3px">arcsec</tspan><tspan style="font-size:11.2px">]</tspan></text>
<text class="lb" transform="translate(369.80 330.48) rotate(-90)" text-anchor="middle"><tspan style="font-size:13.6px">Δ</tspan><tspan class="it" style="font-size:14.2px">ρ</tspan><tspan class="sub" dy="1.8" style="font-size:9.2px">DORB2</tspan><tspan dy="-1.8" style="font-size:11.2px">[</tspan><tspan style="font-size:12.5px">mas</tspan><tspan style="font-size:11.2px">]</tspan></text>
<path d="M432.77 262.06h1.6v1.6h-1.6zM437.77 258.91h1.6v1.6h-1.6zM445.91 261.77h1.6v1.6h-1.6zM447.91 297.49h1.6v1.6h-1.6zM425.91 301.34h1.6v1.6h-1.6zM429.20 302.20h1.6v1.6h-1.6zM436.20 300.06h1.6v1.6h-1.6zM460.77 302.34h1.6v1.6h-1.6zM468.06 318.91h1.6v1.6h-1.6zM464.34 320.20h1.6v1.6h-1.6zM461.91 322.77h1.6v1.6h-1.6zM434.20 327.49h1.6v1.6h-1.6zM430.63 334.91h1.6v1.6h-1.6zM435.34 336.06h1.6v1.6h-1.6zM425.20 339.06h1.6v1.6h-1.6zM447.91 343.49h1.6v1.6h-1.6zM485.20 341.77h1.6v1.6h-1.6zM419.06 361.06h1.6v1.6h-1.6zM432.63 361.77h1.6v1.6h-1.6zM471.91 361.20h1.6v1.6h-1.6zM424.34 366.63h1.6v1.6h-1.6zM425.06 368.20h1.6v1.6h-1.6zM426.84 368.34h1.6v1.6h-1.6zM430.41 368.34h1.6v1.6h-1.6zM431.49 367.63h1.6v1.6h-1.6zM436.84 370.91h1.6v1.6h-1.6zM418.06 371.20h1.6v1.6h-1.6zM418.77 374.06h1.6v1.6h-1.6zM424.20 373.56h1.6v1.6h-1.6zM461.13 373.91h1.6v1.6h-1.6zM419.63 378.20h1.6v1.6h-1.6zM430.99 381.20h1.6v1.6h-1.6zM440.20 383.06h1.6v1.6h-1.6zM453.77 381.99h1.6v1.6h-1.6zM455.41 381.41h1.6v1.6h-1.6zM424.70 384.77h1.6v1.6h-1.6zM457.20 385.91h1.6v1.6h-1.6zM429.34 387.99h1.6v1.6h-1.6zM435.20 388.20h1.6v1.6h-1.6zM461.49 388.06h1.6v1.6h-1.6zM423.99 389.77h1.6v1.6h-1.6zM424.91 390.70h1.6v1.6h-1.6zM432.34 389.99h1.6v1.6h-1.6zM442.56 390.49h1.6v1.6h-1.6zM453.06 390.13h1.6v1.6h-1.6zM418.27 393.70h1.6v1.6h-1.6zM419.34 392.99h1.6v1.6h-1.6zM424.20 394.20h1.6v1.6h-1.6zM425.41 391.91h1.6v1.6h-1.6zM428.27 391.91h1.6v1.6h-1.6zM430.91 391.91h1.6v1.6h-1.6zM447.77 391.56h1.6v1.6h-1.6zM443.06 394.41h1.6v1.6h-1.6zM430.41 395.63h1.6v1.6h-1.6zM426.13 397.06h1.6v1.6h-1.6zM431.13 397.77h1.6v1.6h-1.6zM433.63 397.99h1.6v1.6h-1.6zM436.84 396.41h1.6v1.6h-1.6zM436.13 398.70h1.6v1.6h-1.6zM434.49 400.49h1.6v1.6h-1.6zM441.49 400.34h1.6v1.6h-1.6zM446.63 398.56h1.6v1.6h-1.6zM449.34 396.06h1.6v1.6h-1.6zM452.91 396.56h1.6v1.6h-1.6zM460.56 398.20h1.6v1.6h-1.6zM419.34 400.49h1.6v1.6h-1.6zM452.77 402.06h1.6v1.6h-1.6zM455.91 402.13h1.6v1.6h-1.6zM443.63 402.99h1.6v1.6h-1.6zM444.13 404.41h1.6v1.6h-1.6zM433.27 404.20h1.6v1.6h-1.6zM426.49 404.56h1.6v1.6h-1.6zM428.06 404.56h1.6v1.6h-1.6zM426.84 406.91h1.6v1.6h-1.6zM428.63 407.63h1.6v1.6h-1.6zM418.63 405.84h1.6v1.6h-1.6zM447.91 405.49h1.6v1.6h-1.6zM449.49 405.84h1.6v1.6h-1.6zM447.56 407.77h1.6v1.6h-1.6zM450.77 409.27h1.6v1.6h-1.6zM460.20 407.63h1.6v1.6h-1.6zM439.91 408.34h1.6v1.6h-1.6zM439.70 409.63h1.6v1.6h-1.6zM440.77 410.13h1.6v1.6h-1.6zM443.63 410.63h1.6v1.6h-1.6zM424.70 409.41h1.6v1.6h-1.6zM425.99 410.84h1.6v1.6h-1.6zM422.91 412.06h1.6v1.6h-1.6zM447.20 411.91h1.6v1.6h-1.6zM461.49 411.06h1.6v1.6h-1.6zM433.63 412.63h1.6v1.6h-1.6zM433.63 413.70h1.6v1.6h-1.6zM436.13 413.34h1.6v1.6h-1.6zM437.91 411.91h1.6v1.6h-1.6zM438.99 411.20h1.6v1.6h-1.6zM453.27 412.84h1.6v1.6h-1.6zM440.41 414.56h1.6v1.6h-1.6zM443.63 414.56h1.6v1.6h-1.6zM426.84 415.13h1.6v1.6h-1.6zM427.06 416.06h1.6v1.6h-1.6zM431.13 416.06h1.6v1.6h-1.6zM437.20 415.49h1.6v1.6h-1.6zM438.27 416.34h1.6v1.6h-1.6zM443.06 416.20h1.6v1.6h-1.6zM453.99 415.49h1.6v1.6h-1.6zM457.91 414.63h1.6v1.6h-1.6zM450.63 416.56h1.6v1.6h-1.6zM419.70 418.91h1.6v1.6h-1.6zM427.77 418.49h1.6v1.6h-1.6zM435.06 417.84h1.6v1.6h-1.6zM436.49 418.56h1.6v1.6h-1.6zM440.20 418.20h1.6v1.6h-1.6zM442.77 418.70h1.6v1.6h-1.6zM444.70 418.49h1.6v1.6h-1.6zM473.27 368.56h1.6v1.6h-1.6zM472.56 373.56h1.6v1.6h-1.6zM504.70 374.99h1.6v1.6h-1.6zM477.06 381.91h1.6v1.6h-1.6zM468.49 384.41h1.6v1.6h-1.6zM471.49 384.13h1.6v1.6h-1.6zM477.20 386.06h1.6v1.6h-1.6zM468.13 394.77h1.6v1.6h-1.6zM511.70 393.91h1.6v1.6h-1.6zM464.70 400.13h1.6v1.6h-1.6zM476.13 399.41h1.6v1.6h-1.6zM495.06 399.41h1.6v1.6h-1.6zM496.63 398.13h1.6v1.6h-1.6zM498.41 397.49h1.6v1.6h-1.6zM481.27 402.99h1.6v1.6h-1.6zM482.56 404.77h1.6v1.6h-1.6zM486.84 403.70h1.6v1.6h-1.6zM498.49 402.84h1.6v1.6h-1.6zM465.06 404.91h1.6v1.6h-1.6zM499.34 406.41h1.6v1.6h-1.6zM463.63 407.63h1.6v1.6h-1.6zM485.20 407.99h1.6v1.6h-1.6zM500.77 409.56h1.6v1.6h-1.6zM482.06 410.13h1.6v1.6h-1.6zM485.99 411.34h1.6v1.6h-1.6zM495.77 411.91h1.6v1.6h-1.6zM495.41 413.20h1.6v1.6h-1.6zM466.27 413.70h1.6v1.6h-1.6zM477.70 412.84h1.6v1.6h-1.6zM498.27 414.56h1.6v1.6h-1.6zM475.06 415.70h1.6v1.6h-1.6zM479.49 415.34h1.6v1.6h-1.6zM482.06 415.70h1.6v1.6h-1.6zM487.41 415.34h1.6v1.6h-1.6zM519.49 296.91h1.6v1.6h-1.6zM497.49 342.77h1.6v1.6h-1.6zM494.91 354.06h1.6v1.6h-1.6zM532.49 353.77h1.6v1.6h-1.6zM519.06 399.49h1.6v1.6h-1.6zM521.49 394.20h1.6v1.6h-1.6zM518.63 408.06h1.6v1.6h-1.6zM521.20 411.34h1.6v1.6h-1.6zM514.63 416.20h1.6v1.6h-1.6zM515.49 417.06h1.6v1.6h-1.6zM524.77 417.49h1.6v1.6h-1.6zM530.34 383.49h1.6v1.6h-1.6zM538.49 379.63h1.6v1.6h-1.6zM539.34 389.49h1.6v1.6h-1.6zM533.77 405.06h1.6v1.6h-1.6zM533.06 414.63h1.6v1.6h-1.6zM552.49 400.91h1.6v1.6h-1.6zM551.06 406.91h1.6v1.6h-1.6zM563.20 400.20h1.6v1.6h-1.6zM570.20 399.06h1.6v1.6h-1.6zM581.34 389.49h1.6v1.6h-1.6zM586.34 408.77h1.6v1.6h-1.6zM591.34 419.06h1.6v1.6h-1.6zM592.49 252.63h1.6v1.6h-1.6zM678.77 266.91h1.6v1.6h-1.6zM592.91 298.77h1.6v1.6h-1.6zM604.49 345.20h1.6v1.6h-1.6zM600.06 365.91h1.6v1.6h-1.6zM627.34 367.49h1.6v1.6h-1.6zM595.77 400.49h1.6v1.6h-1.6zM613.06 399.06h1.6v1.6h-1.6zM619.20 412.77h1.6v1.6h-1.6zM639.91 413.20h1.6v1.6h-1.6zM654.06 411.34h1.6v1.6h-1.6z" fill="#111"/>
</g>
</svg></body></html>
